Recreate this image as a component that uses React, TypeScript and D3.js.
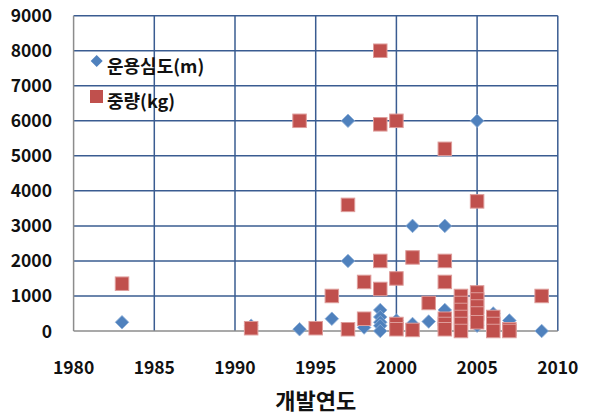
import React from "react";
import * as d3 from "d3";

const xTicks = [1980, 1985, 1990, 1995, 2000, 2005, 2010];
const yTicks = [0, 1000, 2000, 3000, 4000, 5000, 6000, 7000, 8000, 9000];

const depthYears = [1983, 1991, 1994, 1996, 1997, 1997, 1998, 1999, 1999, 1999, 1999, 1999, 2000, 2001, 2001, 2002, 2003, 2003, 2005, 2005, 2006, 2007, 2009];
const depthValues = [250, 150, 50, 350, 6000, 2000, 100, 600, 400, 250, 150, 0, 300, 3000, 200, 270, 3000, 600, 6000, 150, 500, 300, 0];

const weightYears = [1983, 1991, 1994, 1995, 1996, 1997, 1997, 1998, 1998, 1999, 1999, 1999, 1999, 2000, 2000, 2000, 2000, 2001, 2001, 2002, 2003, 2003, 2003, 2003, 2003, 2003, 2004, 2004, 2004, 2004, 2004, 2004, 2005, 2005, 2005, 2005, 2005, 2005, 2006, 2006, 2006, 2007, 2007, 2009];
const weightValues = [1350, 80, 6000, 80, 1000, 3600, 50, 1400, 350, 8000, 5900, 2000, 1200, 6000, 1500, 200, 50, 2100, 30, 800, 5200, 2000, 1400, 350, 200, 50, 1000, 800, 600, 400, 200, 0, 3700, 1100, 900, 700, 500, 250, 400, 200, 0, 50, 0, 1000];

const seriesNames = ["운용심도(m)", "중량(kg)"];
const xTitle = "개발연도";

const W = 591;
const H = 414;
const left = 73.6;
const right = 557.8;
const top = 15.7;
const bottom = 331;

const blue = "#4F81BD";
const red = "#C0504D";
const grid = "#3A5C91";
const axisGray = "#8C8C8C";
const font = "'Noto Sans CJK KR', 'Noto Sans', sans-serif";

export default function App() {
  const x = d3.scaleLinear().domain([1980, 2010]).range([left, right]);
  const y = d3.scaleLinear().domain([0, 9000]).range([bottom, top]);
  const diamond = (cx: number, cy: number, r: number) =>
    `M${cx},${cy - r}L${cx + r},${cy}L${cx},${cy + r}L${cx - r},${cy}Z`;
  const sq = 13.5;

  return (
    <svg width={W} height={H} style={{ position: "absolute", left: 0, top: 0, background: "#fff" }}>
      {/* horizontal gridlines */}
      {yTicks.filter((t) => t > 0).map((t) => (
        <line key={"h" + t} x1={left} x2={right} y1={y(t)} y2={y(t)} stroke={grid} strokeWidth={1.5} />
      ))}
      {/* vertical gridlines */}
      {xTicks.filter((t) => t > 1980).map((t) => (
        <line key={"v" + t} x1={x(t)} x2={x(t)} y1={top} y2={bottom} stroke={grid} strokeWidth={1.5} />
      ))}
      {/* axes */}
      <line x1={left} x2={left} y1={top} y2={bottom} stroke={axisGray} strokeWidth={1.5} />
      <line x1={left} x2={right} y1={bottom} y2={bottom} stroke={axisGray} strokeWidth={1.5} />

      {/* series 1: diamonds */}
      {depthYears.map((yr, i) => (
        <path key={"d" + i} d={diamond(x(yr), y(depthValues[i]), 6.8)} fill={blue} stroke="#8FB0D8" strokeWidth={0.8} />
      ))}
      {/* series 2: squares */}
      {weightYears.map((yr, i) => (
        <rect key={"s" + i} x={x(yr) - sq / 2} y={y(weightValues[i]) - sq / 2} width={sq} height={sq} fill={red} stroke="#DE9C9A" strokeWidth={1} />
      ))}

      {/* y tick labels */}
      {yTicks.map((t) => (
        <text key={"yl" + t} x={52} y={y(t) + 6.5} textAnchor="end" fontFamily={font} fontWeight={700} fontSize={17.5} fill="#111">
          {t}
        </text>
      ))}
      {/* x tick labels */}
      {xTicks.map((t) => (
        <text key={"xl" + t} x={x(t)} y={374} textAnchor="middle" fontFamily={font} fontWeight={700} fontSize={17.5} fill="#111">
          {t}
        </text>
      ))}
      {/* x title */}
      <text x={(left + right) / 2} y={409} textAnchor="middle" fontFamily={font} fontWeight={600} fontSize={22} fill="#111">
        {xTitle}
      </text>

      {/* legend */}
      <path d={diamond(96.7, 61, 6)} fill={blue} />
      <text x={107} y={72.5} fontFamily={font} fontWeight={700} fontSize={18} fill="#111">
        {seriesNames[0]}
      </text>
      <rect x={90} y={90} width={13} height={13} fill={red} />
      <text x={107} y={108} fontFamily={font} fontWeight={700} fontSize={18} fill="#111">
        {seriesNames[1]}
      </text>
    </svg>
  );
}
